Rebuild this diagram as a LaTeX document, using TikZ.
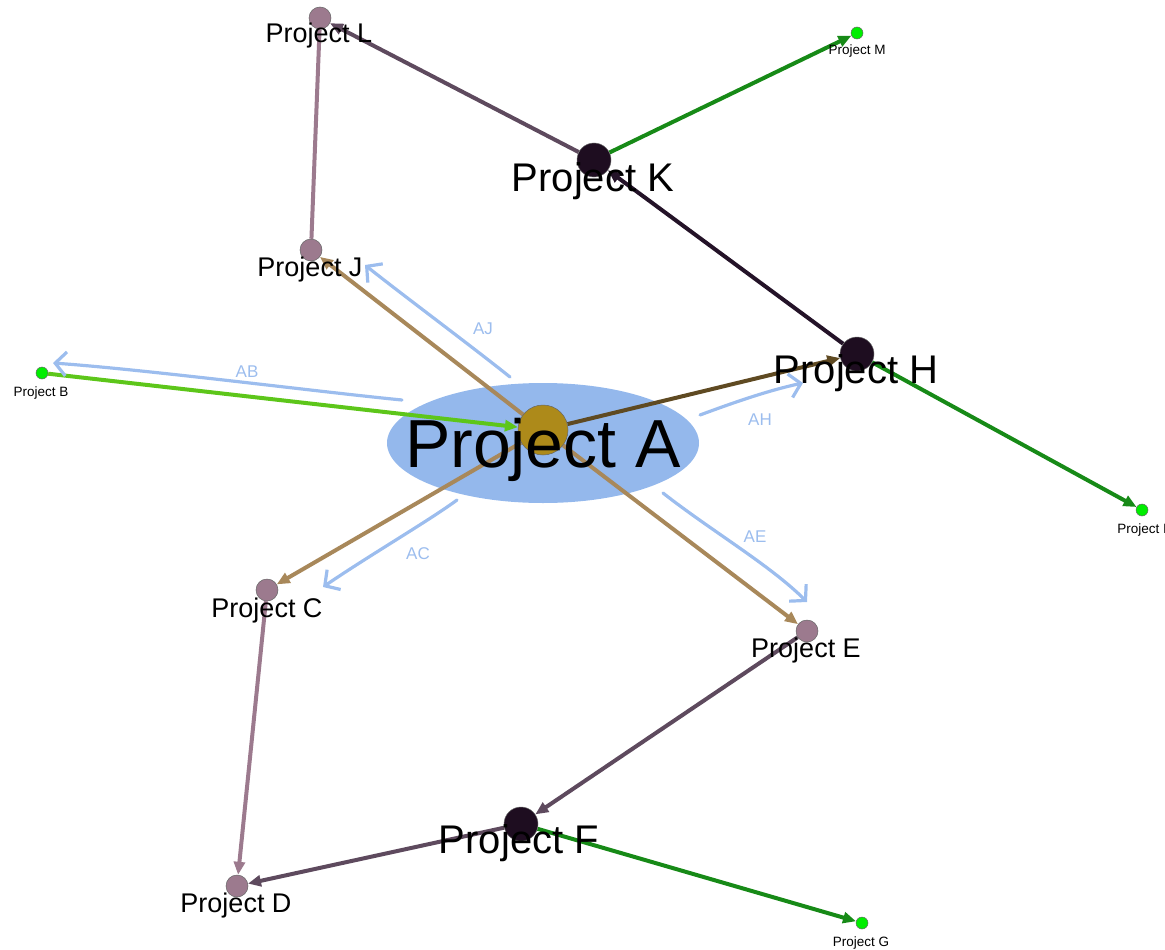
\documentclass[tikz,border=0pt]{standalone}
\usepackage{fontspec}
\setmainfont{Liberation Sans}
\usepackage{xcolor}
\usepackage{tikz}
\usetikzlibrary{arrows.meta,backgrounds}

\definecolor{hlblue}{HTML}{94B8EC}
\definecolor{noteblue}{HTML}{9CBDEE}
\definecolor{gold}{HTML}{AD8A1A}
\definecolor{mauve}{HTML}{9C7A8E}
\definecolor{darkv}{HTML}{1E0D20}
\definecolor{leaf}{HTML}{00EE00}
\definecolor{tan}{HTML}{A8885A}
\definecolor{bronze}{HTML}{5F4A22}
\definecolor{lime}{HTML}{5DC61A}
\definecolor{forest}{HTML}{178A17}
\definecolor{plum}{HTML}{5E4A5E}
\definecolor{dusk}{HTML}{241328}

\begin{document}
\begin{tikzpicture}[x=1pt, y=-1pt,
    vtx/.style={circle, draw=black!60, line width=0.5pt, inner sep=0pt},
    hub/.style={vtx, fill=darkv, minimum size=34pt},
    mid/.style={vtx, fill=mauve, minimum size=22pt},
    tip/.style={vtx, fill=leaf, minimum size=12pt},
    lbl/.style={anchor=base, inner sep=0pt, text=black},
    edge/.style={line width=4pt, -{Triangle[length=13pt,width=11pt]}},
    note/.style={draw=noteblue, line width=3.2pt, line cap=round, line join=round, -{Straight Barb[length=11pt,width=24pt]}},
    notelbl/.style={text=noteblue, inner sep=0pt, font=\fontsize{17}{19}\selectfont}]
    \useasboundingbox (0,0) rectangle (1165,950);

    % 円ノード
    \node [vtx, fill=gold, minimum size=50pt] (a) at (543,430) {};
    \node [tip] (b) at (42,373) {};
    \node [mid] (c) at (267,590) {};
    \node [mid] (d) at (237,886) {};
    \node [mid] (e) at (807,631) {};
    \node [hub] (f) at (521,824) {};
    \node [tip] (g) at (862,923) {};
    \node [hub] (h) at (857,354) {};
    \node [tip] (i) at (1142,510) {};
    \node [mid] (j) at (311,250) {};
    \node [hub] (k) at (594,160) {};
    \node [mid] (l) at (320,18) {};
    \node [tip] (m) at (857,33) {};

    % 背景の強調と矢印
    \begin{pgfonlayer}{background}
    \fill[hlblue] (543,443) ellipse (156 and 60);
    \draw [edge, lime] (b) -- (a);
    \draw [edge, tan] (a) -- (j);
    \draw [edge, tan] (a) -- (c);
    \draw [edge, tan] (a) -- (e);
    \draw [edge, bronze] (a) -- (h);
    \draw [edge, mauve] (c) -- (d);
    \draw [edge, plum] (e) -- (f);
    \draw [edge, plum] (f) -- (d);
    \draw [edge, forest] (f) -- (g);
    \draw [edge, dusk] (h) -- (k);
    \draw [edge, forest] (h) -- (i);
    \draw [edge, plum] (k) -- (l);
    \draw [edge, forest] (k) -- (m);
    \draw [line width=4pt, mauve] (j) -- (l);
    \end{pgfonlayer}

    % ラベル
    \node [lbl, font=\fontsize{68}{80}\selectfont] (a-t) at (543,467) {Project A};
    \node [lbl, font=\fontsize{13.5}{16}\selectfont] (b-t) at (41,396) {Project B};
    \node [lbl, font=\fontsize{27}{32}\selectfont] (c-t) at (267,617) {Project C};
    \node [lbl, font=\fontsize{27}{32}\selectfont] (d-t) at (236,912) {Project D};
    \node [lbl, font=\fontsize{27}{32}\selectfont] (e-t) at (806,657) {Project E};
    \node [lbl, font=\fontsize{40}{48}\selectfont] (f-t) at (519,853) {Project F};
    \node [lbl, font=\fontsize{13.5}{16}\selectfont] (g-t) at (861,946) {Project G};
    \node [lbl, font=\fontsize{40}{48}\selectfont] (h-t) at (856,383) {Project H};
    \node [lbl, font=\fontsize{13.5}{16}\selectfont] (i-t) at (1142,533) {Project I};
    \node [lbl, font=\fontsize{27}{32}\selectfont] (j-t) at (310,276) {Project J};
    \node [lbl, font=\fontsize{40}{48}\selectfont] (k-t) at (593,191) {Project K};
    \node [lbl, font=\fontsize{27}{32}\selectfont] (l-t) at (319,43) {Project L};
    \node [lbl, font=\fontsize{13.5}{16}\selectfont] (m-t) at (857,55) {Project M};

    % 手書きの注釈
    \coordinate (ab-s) at (402,400);
    \coordinate (ab-e) at (53,363);
    \coordinate (aj-s) at (510,377);
    \coordinate (aj-e) at (365,265);
    \coordinate (ah-s) at (700,415);
    \coordinate (ah-e) at (803,383);
    \coordinate (ac-s) at (457,500);
    \coordinate (ac-e) at (323,587);
    \coordinate (ae-s) at (663,493);
    \coordinate (ae-e) at (807,602);
    \draw [note] (ab-s) .. controls (320,392) and (150,370) .. (ab-e);
    \draw [note] (aj-s) .. controls (470,345) and (400,293) .. (aj-e);
    \draw [note] (ah-s) .. controls (735,402) and (770,390) .. (ah-e);
    \draw [note] (ac-s) .. controls (430,520) and (370,555) .. (ac-e);
    \draw [note] (ae-s) .. controls (710,530) and (770,565) .. (ae-e);
    \node [notelbl] (ab) at (247,372) {AB};
    \node [notelbl] (aj) at (483,329) {AJ};
    \node [notelbl] (ah) at (760,420) {AH};
    \node [notelbl] (ac) at (418,554) {AC};
    \node [notelbl] (ae) at (755,537) {AE};
\end{tikzpicture}
\end{document}
